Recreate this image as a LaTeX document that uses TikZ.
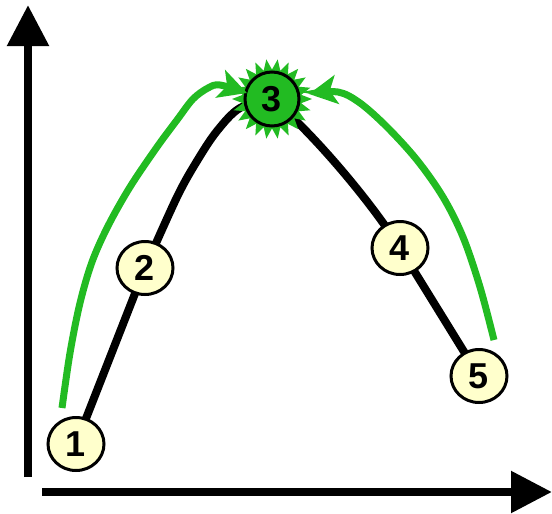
\documentclass[tikz,border=0pt]{standalone}
\usepackage{fontspec}
\setmainfont{Liberation Sans}
\usetikzlibrary{arrows.meta,shapes.geometric,backgrounds,calc}
\definecolor{gr}{HTML}{22BB22}
\definecolor{pale}{HTML}{FFFFCC}
\tikzset{
  stepnode/.style={ellipse,draw=black,line width=3pt,fill=pale,minimum width=56pt,minimum height=53pt,inner sep=0pt,font=\fontsize{36}{36}\selectfont\bfseries},
  topnode/.style={circle,draw=black,line width=3pt,fill=gr,minimum size=54pt,inner sep=0pt,font=\fontsize{36}{36}\selectfont\bfseries},
  axisline/.style={line width=8.5pt,-{Triangle[length=41pt,width=40pt]}},
  pathline/.style={line width=8pt,black},
  greenarrow/.style={line width=7pt,gr,-{Stealth[length=28pt,width=29pt,inset=7pt]}}
}
\begin{document}
\begin{tikzpicture}[x=1pt,y=-1pt]
\useasboundingbox (0,0) rectangle (552,514);
% axes
\coordinate (yaxs) at (28,477);
\coordinate (yaxe) at (28,5);
\coordinate (xaxs) at (42,492);
\coordinate (xaxe) at (552,492);
\draw[axisline] (yaxs) -- (yaxe);
\draw[axisline] (xaxs) -- (xaxe);
% nodes
\node[stepnode] (n1) at (76,444) {1};
\node[stepnode] (n2) at (145,268) {2};
\node[stepnode] (n4) at (400,248) {4};
\node[stepnode] (n5) at (479,376) {5};
\coordinate (c3) at (272,99);
% starburst
\fill[gr] plot[samples=45,domain=0:44,variable=\t] ({272+(34.75+5.25*cos(\t*180))*cos(\t*8.181818)}, {99+(34.75+5.25*cos(\t*180))*sin(\t*8.181818)}) -- cycle;
\node[topnode] (n3) at (c3) {3};
% black path
\begin{scope}[on background layer]
\draw[pathline] (n1.center) -- (n2.center);
\draw[pathline] plot[smooth,tension=0.55] coordinates {(n2.center) (177,197) (197,161) (217,131) (240,108) (n3.center)};
\draw[pathline] (n3.center) .. controls (310,130) and (370,200) .. (n4.center) -- (n5.center);
\end{scope}
% green arrows
\coordinate (g1s) at (62,408);
\coordinate (g1e) at (247,93);
\coordinate (g2s) at (494,340);
\coordinate (g2e) at (309,94);
\draw[greenarrow] plot[smooth,tension=0.55] coordinates {(g1s) (70,353) (80,303) (92,262) (108,226) (130,187) (157,147) (177,120) (193,99) (208,88) (220,85) (g1e)};
\draw[greenarrow] plot[smooth,tension=0.55] coordinates {(g2s) (480,287) (463,237) (443,197) (417,160) (387,127) (360,103) (338,92) (g2e)};
\end{tikzpicture}
\end{document}
